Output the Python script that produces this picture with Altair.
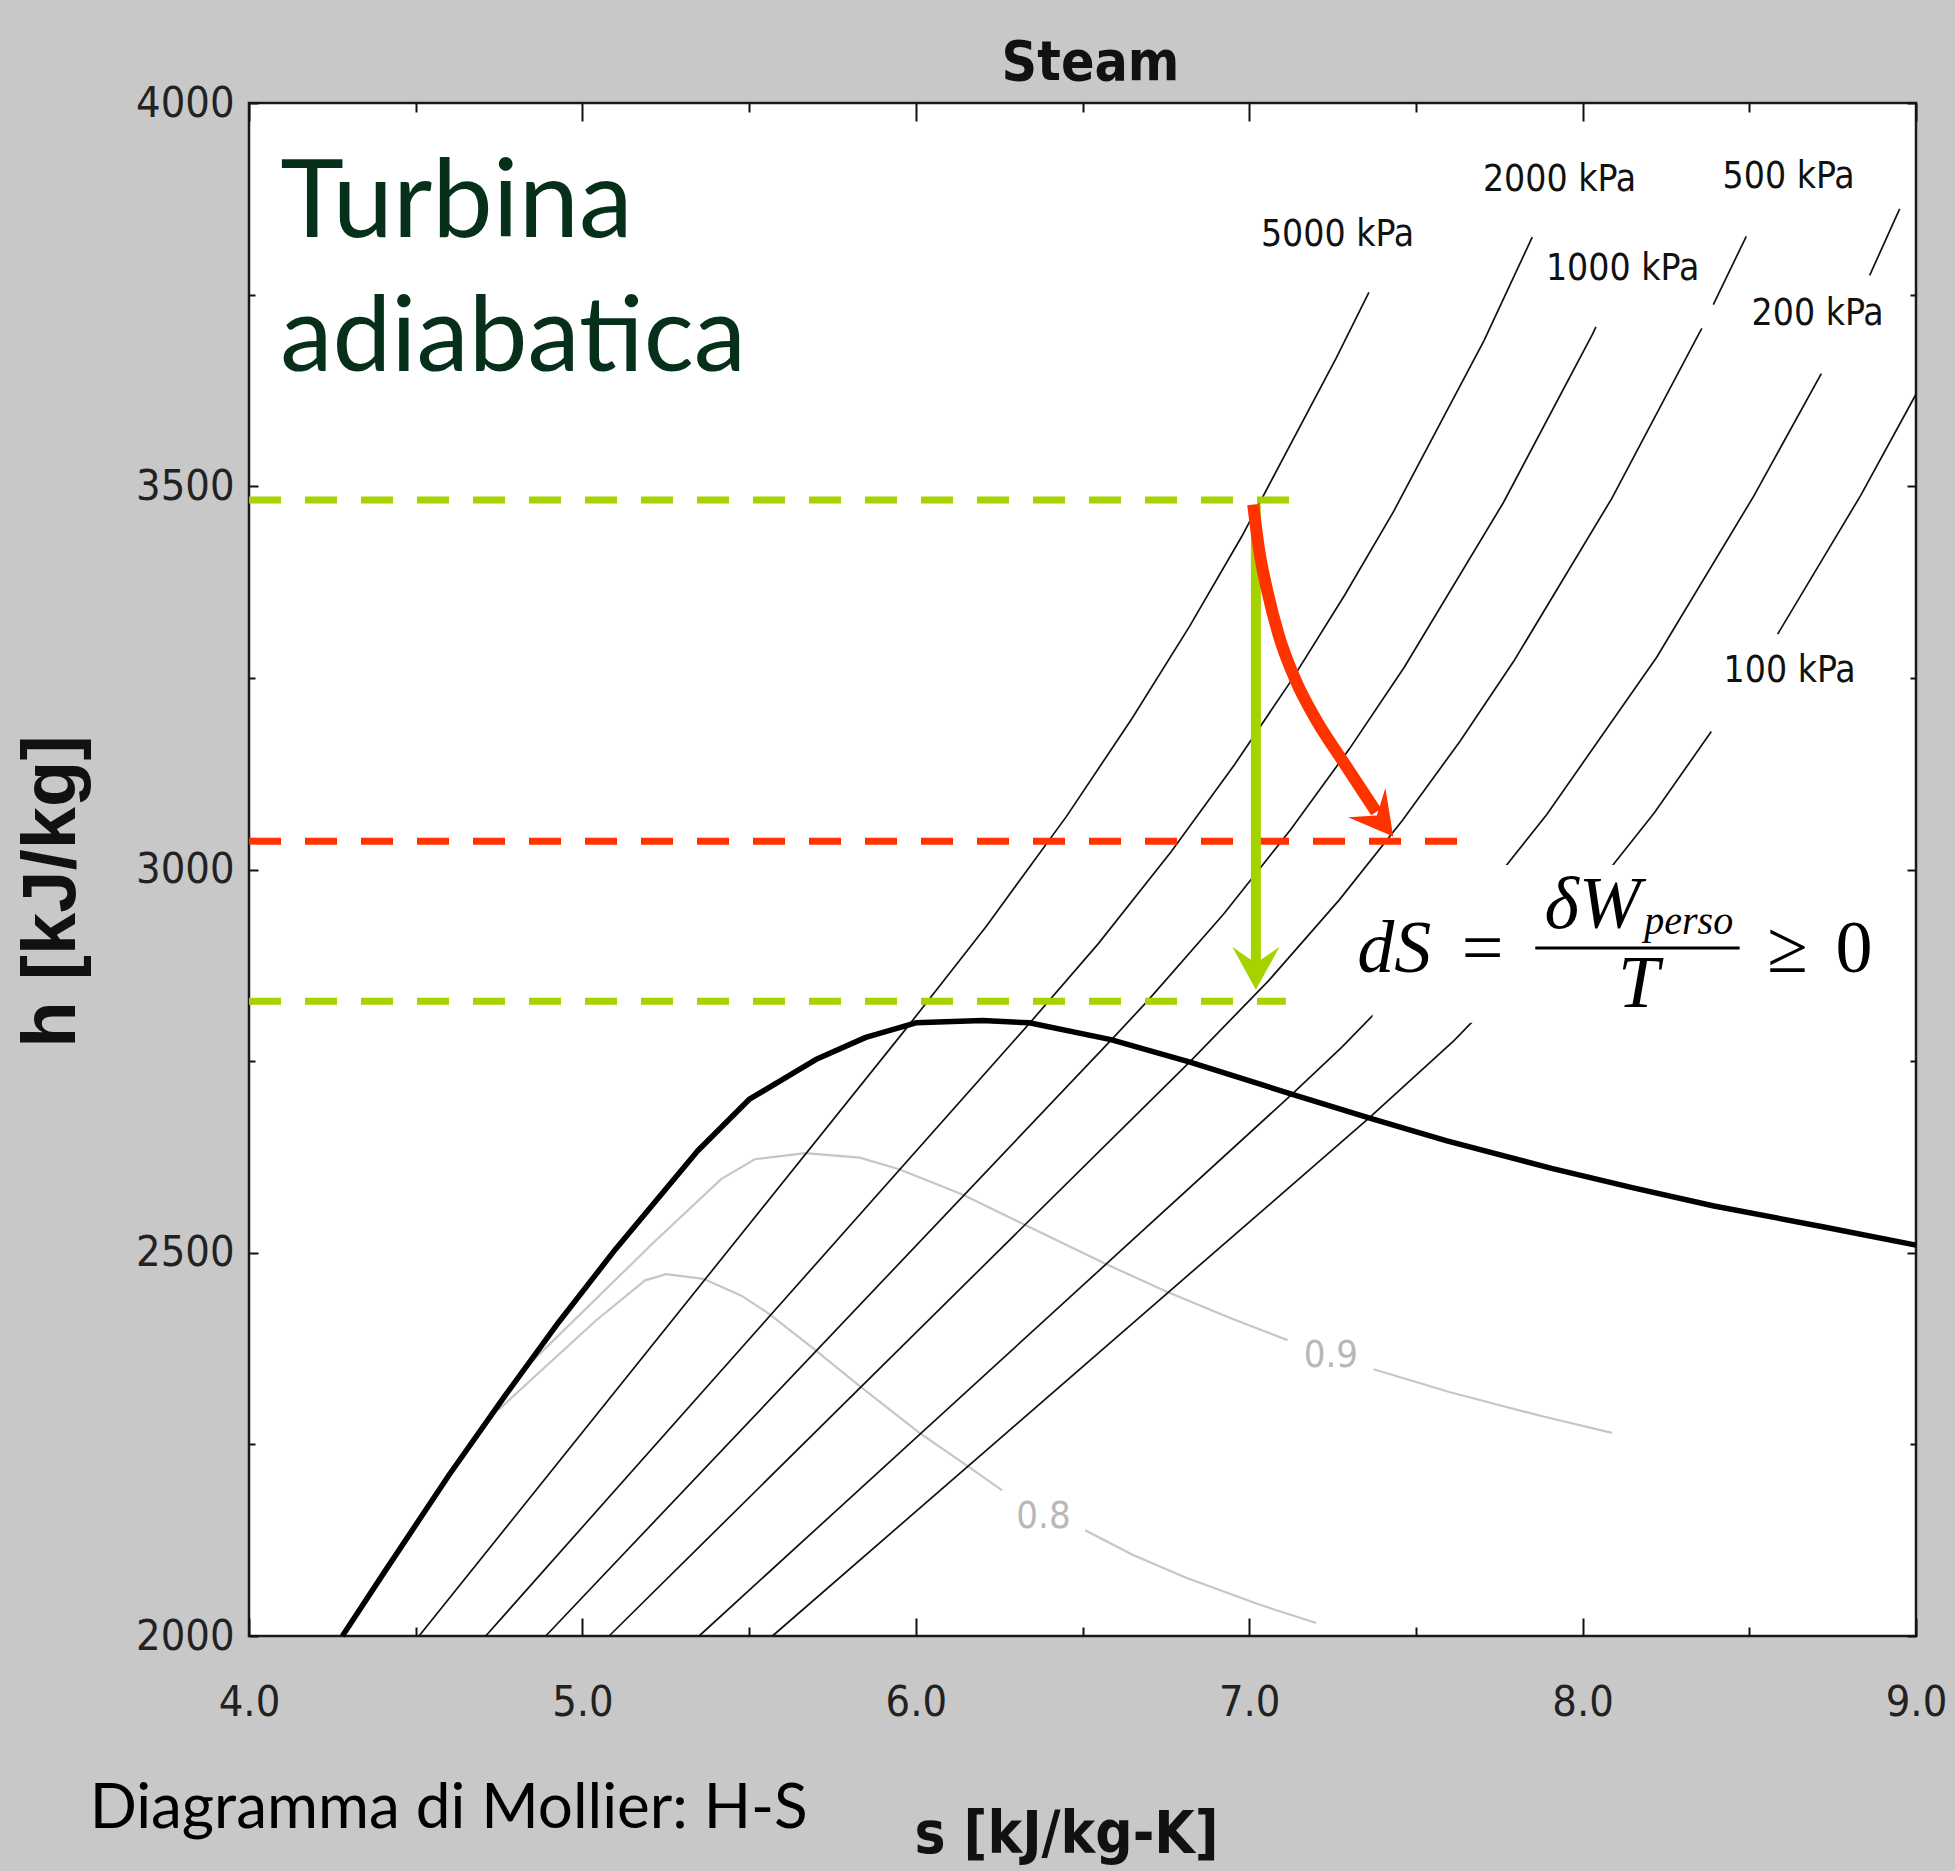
import altair as alt
import pandas as pd

# ---------------- axes ----------------
s_domain = [4.0, 9.0]
h_domain = [2000, 4000]
s_major = [4.0, 5.0, 6.0, 7.0, 8.0, 9.0]
s_minor = [4.5, 5.5, 6.5, 7.5, 8.5]
h_major = [2000, 2500, 3000, 3500, 4000]
h_minor = [2250, 2750, 3250, 3750]

# ---------------- saturation dome (thick) ----------------
sat_s = [4.28, 4.407, 4.60, 4.767, 4.93, 5.10, 5.346, 5.50, 5.70, 5.85, 6.00, 6.20,
         6.34, 6.585, 6.82, 7.127, 7.359, 7.593, 7.907, 8.149, 8.394, 8.72, 9.0]
sat_h = [2000, 2084, 2210, 2313, 2410, 2505, 2633, 2700, 2752, 2781, 2800, 2803,
         2800, 2778, 2749, 2707, 2676, 2646, 2610, 2585, 2561, 2534, 2510]

# ---------------- isobars ----------------
p5000_s = [4.51, 5.974, 6.211, 6.452, 6.648, 6.821, 6.978, 7.2605, 7.359]
p5000_h = [2000, 2794, 2925.7, 3069.3, 3196.7, 3317.2, 3434.7, 3666.9, 3753]
p2000_s = [4.71, 6.339, 6.5475, 6.7664, 6.9563, 7.1292, 7.2866, 7.4337, 7.7043, 7.849]
p2000_h = [2000, 2798.3, 2903.3, 3023.5, 3137.0, 3248.4, 3358.2, 3467.6, 3690.1, 3825]
p1000_s = [4.89, 6.585, 6.694, 6.9247, 7.1229, 7.3011, 7.4651, 7.7622, 8.029, 8.04]
p1000_h = [2000, 2777.1, 2827.9, 2942.6, 3051.2, 3157.7, 3263.9, 3478.5, 3697.9, 3708]
p500a_s = [5.08, 6.821, 7.0592, 7.2709, 7.4599, 7.6329, 7.7938, 8.0873, 8.3522, 8.358]
p500a_h = [2000, 2748.7, 2855.4, 2960.7, 3064.2, 3167.7, 3271.9, 3483.9, 3701.7, 3706]
p500b_s = [8.392, 8.491]
p500b_h = [3737, 3826]
p200a_s = [5.35, 7.127, 7.2795, 7.5066, 7.7086, 7.8926, 8.2218, 8.5133, 8.716]
p200a_h = [2000, 2706.3, 2768.8, 2870.5, 2971.0, 3071.8, 3276.6, 3487.1, 3647]
p200b_s = [8.861, 8.951]
p200b_h = [3775, 3862]
p100a_s = [5.57, 7.359, 7.6134, 7.8343, 8.0333, 8.2158, 8.386]
p100a_h = [2000, 2675.5, 2776.4, 2875.3, 2974.3, 3074.3, 3180]
p100b_s = [8.585, 8.8342, 9.0]
p100b_h = [3307, 3488.1, 3620]

iso_label_text = ["5000 kPa", "2000 kPa", "1000 kPa", "500 kPa", "200 kPa", "100 kPa"]
iso_label_s = [7.265, 7.931, 8.120, 8.618, 8.705, 8.621]
iso_label_h = [3828, 3900, 3784, 3903, 3725, 3259]

# ---------------- quality lines ----------------
q09a_s = [4.839, 5.208, 5.416, 5.517, 5.668, 5.832, 5.950, 6.140, 6.325, 6.567, 6.753, 6.943, 7.115]
q09a_h = [2354, 2511, 2596, 2622, 2630, 2624, 2609, 2576, 2537, 2486, 2449, 2415, 2386]
q09b_s = [7.373, 7.603, 7.876, 8.088]
q09b_h = [2348, 2318, 2287, 2265]
q08a_s = [4.748, 5.039, 5.188, 5.251, 5.363, 5.477, 5.561, 5.696, 5.829, 6.008, 6.148, 6.259]
q08a_h = [2295, 2411, 2464, 2472, 2466, 2444, 2420, 2374, 2327, 2266, 2224, 2190]
q08b_s = [6.508, 6.650, 6.811, 7.030, 7.201]
q08b_h = [2138, 2106, 2076, 2041, 2017]
q_label_text = ["0.9", "0.8"]
q_label_s = [7.245, 6.383]
q_label_h = [2365, 2155]

# ---------------- turbine expansion ----------------
h_in = 3482          # inlet enthalpy (green dashed)
h_out_ideal = 2828   # isentropic outlet (green dashed)
h_out_real = 3037    # real outlet (red dashed)
green_dash_s = [4.0, 7.13]
green_dash2_s = [4.0, 7.11]
red_dash_s = [4.0, 7.635]
iso_s = 7.02
green_arrow_h = [3476, 2875]
green_tip = [7.02, 2843]
red_curve_s = [7.012, 7.029, 7.055, 7.089, 7.138, 7.201, 7.280, 7.381]
red_curve_h = [3476, 3419, 3362, 3305, 3248, 3195, 3142, 3075]
red_tip = [7.432, 3043]

# formula box (white background) in data units
box_s = [7.37, 8.95]
box_h = [2800, 3006]

# ---------------- styling ----------------
NARROW = "Liberation Sans Narrow, Arial Narrow, DejaVu Sans Condensed, Liberation Sans, sans-serif"
SANS = "Liberation Sans, Arial, sans-serif"
SERIF = "Liberation Serif, Times New Roman, serif"
SLIDE = "Lato, Gill Sans, Open Sans, sans-serif"
GREEN = "#a6d200"
RED = "#ff3300"
W, H = 1667, 1533

XS = alt.Scale(domain=s_domain, nice=False, zero=False)
YS = alt.Scale(domain=h_domain, nice=False, zero=False)


def ex(axis=None, field="s"):
    return alt.X(field, type="quantitative", scale=XS, axis=axis)


def ey(axis=None, field="h"):
    return alt.Y(field, type="quantitative", scale=YS, axis=axis)


def segs(items):
    rows = []
    for name, ss, hh in items:
        for i, (a, b) in enumerate(zip(ss, hh)):
            rows.append({"seg": name, "i": i, "s": a, "h": b})
    return pd.DataFrame(rows)


def point_df(s, h, **extra):
    d = {"s": s, "h": h}
    d.update(extra)
    return pd.DataFrame(d)


TICKS = dict(domain=False, grid=False, tickColor="#111111", tickWidth=2, zindex=1,
             labelFlush=False)

ax_bottom = alt.Axis(orient="bottom", values=s_major, tickSize=18, offset=-18, format=".1f",
                     labelFont=NARROW, labelFontSize=43, labelColor="#222222", labelPadding=45,
                     title="s [kJ/kg-K]", titleFont=NARROW, titleFontSize=58, titleFontWeight="bold",
                     titleColor="#111111", titleX=817, titleY=234, titleAlign="center",
                     titleBaseline="alphabetic", **TICKS)
ax_bottom_minor = alt.Axis(orient="bottom", values=s_minor, tickSize=9, offset=-9, labels=False,
                           title="", **TICKS)
ax_top = alt.Axis(orient="top", values=s_major, tickSize=18, offset=-18, labels=False, title="", **TICKS)
ax_top_minor = alt.Axis(orient="top", values=s_minor, tickSize=9, offset=-9, labels=False, title="", **TICKS)

ax_left = alt.Axis(orient="left", values=h_major, tickSize=9, offset=-9, format="d",
                   labelFont=NARROW, labelFontSize=43, labelColor="#222222", labelPadding=15,
                   title="h [kJ/kg]", titleFont=SANS, titleFontSize=76, titleFontWeight="bold",
                   titleColor="#111111", titleAngle=270, titleX=-184, titleY=788,
                   titleAlign="center", titleBaseline="alphabetic", **TICKS)
ax_left_minor = alt.Axis(orient="left", values=h_minor, tickSize=6, offset=-6, labels=False,
                         title="", **TICKS)
ax_right = alt.Axis(orient="right", values=h_major, tickSize=9, offset=-9, labels=False, title="", **TICKS)
ax_right_minor = alt.Axis(orient="right", values=h_minor, tickSize=6, offset=-6, labels=False,
                          title="", **TICKS)

# ---------------- layers ----------------
q_df = segs([("q09a", q09a_s, q09a_h), ("q09b", q09b_s, q09b_h),
             ("q08a", q08a_s, q08a_h), ("q08b", q08b_s, q08b_h)])
quality = alt.Chart(q_df).mark_line(color="#c6c6c6", strokeWidth=2.2).encode(
    x=ex(ax_bottom), y=ey(ax_left), detail="seg:N", order="i:Q")

iso_df = segs([("5000", p5000_s, p5000_h), ("2000", p2000_s, p2000_h), ("1000", p1000_s, p1000_h),
               ("500a", p500a_s, p500a_h), ("500b", p500b_s, p500b_h),
               ("200a", p200a_s, p200a_h), ("200b", p200b_s, p200b_h),
               ("100a", p100a_s, p100a_h), ("100b", p100b_s, p100b_h)])
isobars = alt.Chart(iso_df).mark_line(color="#111111", strokeWidth=1.7).encode(
    x=ex(ax_top), y=ey(ax_right), detail="seg:N", order="i:Q")

sat_df = segs([("sat", sat_s, sat_h)])
saturation = alt.Chart(sat_df).mark_line(color="#000000", strokeWidth=5.5, strokeJoin="round").encode(
    x=ex(ax_bottom_minor), y=ey(ax_left_minor), order="i:Q")

box_df = pd.DataFrame({"s": [box_s[0]], "s2": [box_s[1]], "h": [box_h[0]], "h2": [box_h[1]]})
formula_box = alt.Chart(box_df).mark_rect(fill="white", stroke=None).encode(
    x=ex(ax_top_minor), x2="s2", y=ey(ax_right_minor), y2="h2")

iso_lab = alt.Chart(point_df(iso_label_s, iso_label_h, t=iso_label_text)).mark_text(
    font=NARROW, fontSize=37, color="#111111", align="center", baseline="middle").encode(
    x=ex(), y=ey(), text="t:N")
q_lab = alt.Chart(point_df(q_label_s, q_label_h, t=q_label_text)).mark_text(
    font=NARROW, fontSize=38, color="#b8b8b8", align="center", baseline="middle").encode(
    x=ex(), y=ey(), text="t:N")

dash_df = segs([("g1", green_dash_s, [h_in, h_in]), ("g2", green_dash2_s, [h_out_ideal, h_out_ideal])])
green_dash = alt.Chart(dash_df).mark_line(color=GREEN, strokeWidth=7, strokeDash=[32, 24]).encode(
    x=ex(), y=ey(), detail="seg:N", order="i:Q")
red_dash = alt.Chart(segs([("r", red_dash_s, [h_out_real, h_out_real])])).mark_line(
    color=RED, strokeWidth=7, strokeDash=[32, 24]).encode(x=ex(), y=ey(), order="i:Q")

green_line = alt.Chart(segs([("gv", [iso_s, iso_s], green_arrow_h)])).mark_line(
    color=GREEN, strokeWidth=10).encode(x=ex(), y=ey(), order="i:Q")
red_line = alt.Chart(segs([("rc", red_curve_s, red_curve_h)])).mark_line(
    color=RED, strokeWidth=12, interpolate="monotone").encode(x=ex(), y=ey(), order="i:Q")

ARROW = "M0,0L-0.55,-1L0,-0.62L0.55,-1Z"
green_head = alt.Chart(point_df([green_tip[0]], [green_tip[1]])).mark_point(
    shape=ARROW, size=7400, filled=True, color=GREEN, opacity=1).encode(x=ex(), y=ey())
red_head = alt.Chart(point_df([red_tip[0]], [red_tip[1]])).mark_point(
    shape=ARROW, size=7400, filled=True, color=RED, opacity=1, angle=322).encode(x=ex(), y=ey())


def label(text, s, h, **kw):
    return alt.Chart(point_df([s], [h], t=[text])).mark_text(**kw).encode(x=ex(), y=ey(), text="t:N")


title = label("Steam", 6.524, 4030, font=NARROW, fontSize=55, fontWeight="bold", color="#111111",
              align="center", baseline="alphabetic")
turb1 = label("Turbina", 4.094, 3825, font=SLIDE, fontSize=108, color="#06301a",
              align="left", baseline="alphabetic")
turb2 = label("adiabatica", 4.094, 3650, font=SLIDE, fontSize=105, color="#06301a",
              align="left", baseline="alphabetic")
mollier = label("Diagramma di Mollier: H-S", 3.522, 1749, font=SLIDE, fontSize=62, color="#000000",
                align="left", baseline="alphabetic")

f_ds = label("dS", 7.324, 2866, font=SERIF, fontSize=74, fontStyle="italic", color="#000000",
             align="left", baseline="alphabetic")
f_eq = label("=", 7.700, 2866, font=SERIF, fontSize=74, color="#000000",
             align="center", baseline="alphabetic")
f_dw = label("δW", 7.886, 2924, font=SERIF, fontSize=74, fontStyle="italic", color="#000000",
             align="left", baseline="alphabetic")
f_perso = label("perso", 8.185, 2916, font=SERIF, fontSize=40, fontStyle="italic", color="#000000",
                align="left", baseline="alphabetic")
f_t = label("T", 8.168, 2821, font=SERIF, fontSize=74, fontStyle="italic", color="#000000",
            align="center", baseline="alphabetic")
f_ge = label("≥", 8.615, 2866, font=SERIF, fontSize=74, color="#000000",
             align="center", baseline="alphabetic")
f_zero = label("0", 8.814, 2866, font=SERIF, fontSize=74, color="#000000",
               align="center", baseline="alphabetic")
bar_df = pd.DataFrame({"s": [7.858], "s2": [8.471], "h": [2897.7]})
f_bar = alt.Chart(bar_df).mark_rule(color="#000000", strokeWidth=3).encode(
    x=ex(), x2="s2", y=ey())

chart = alt.layer(
    quality, isobars, saturation, formula_box, iso_lab, q_lab,
    green_dash, red_dash, green_line, red_line, green_head, red_head,
    title, turb1, turb2, mollier,
    f_ds, f_eq, f_dw, f_perso, f_t, f_ge, f_zero, f_bar,
).resolve_axis(
    x="independent", y="independent"
).properties(
    width=W, height=H, background="#c8c8c8",
    padding={"left": 249, "top": 103, "right": 39, "bottom": 235},
    autosize=alt.AutoSizeParams(type="none"),
).configure_view(
    fill="white", stroke="#1a1a1a", strokeWidth=2.5
)

chart.save("out.html", embed_options={"renderer": "svg", "actions": False})
